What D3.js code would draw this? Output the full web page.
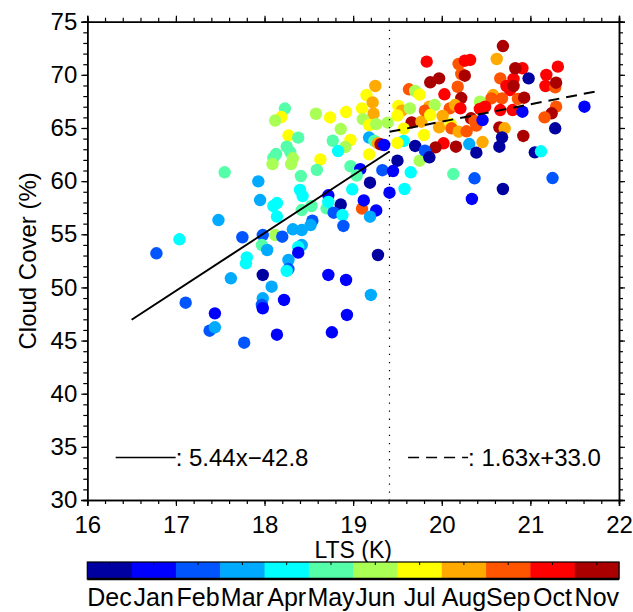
<!DOCTYPE html>
<html><head><meta charset="utf-8">
<script src="https://cdn.jsdelivr.net/npm/d3@7"></script>
<style>
body{margin:0;background:#fff}
svg{display:block}
text{font-family:"Liberation Sans",Arial,Helvetica,sans-serif;fill:#000}
</style>
</head><body>
<svg id="chart" width="633" height="612"></svg>
<script>
// ---------- data ----------
const months = ["Dec","Jan","Feb","Mar","Apr","May","Jun","Jul","Aug","Sep","Oct","Nov"];
const monthColors = ["#0000a0","#0000ff","#0055ff","#00aaff","#00ffff","#55ffaa","#aaff55","#ffff00","#ffaa00","#ff5500","#ff0000","#aa0000"];
const xTicks = [16,17,18,19,20,21,22];
const yTicks = [30,35,40,45,50,55,60,65,70,75];

const lts = [
 17.95,18.10,18.14,18.40,18.43,18.42,18.53,18.70,18.72,18.72,18.86,19.10,19.12,19.26,18.78,18.88,19.19,17.48,18.14,18.54,
 18.52,18.32,18.42,18.89,17.04,17.75,17.98,18.12,18.20,17.97,18.03,18.42,18.38,18.38,16.78,17.80,17.79,18.27,18.27,18.25,
 19.28,17.62,17.98,18.72,18.92,18.08,17.98,17.97,17.98,18.22,19.20,17.11,17.44,17.38,17.44,17.77,18.14,18.76,18.93,
 18.23,18.19,18.12,18.58,18.74,18.92,18.27,18.38,18.86,18.77,18.97,18.91,18.83,18.25,18.29,18.13,18.10,18.09,18.32,18.30,
 18.63,18.59,18.41,18.97,17.55,17.93,18.99,19.08,19.04,
 19.15,19.25,19.22,19.10,19.23,19.11,19.18,19.26,19.39,19.63,19.70,19.75,19.51,19.55,19.64,19.50,19.66,19.57,19.77,19.18,
 19.24,19.28,19.31,19.35,19.57,19.50,19.70,19.18,19.33,19.50,19.45,19.65,19.75,19.19,19.41,19.58,
 20.69,19.83,20.19,20.26,20.32,20.62,20.22,20.26,19.87,19.97,20.03,20.18,20.22,20.66,20.81,20.91,20.83,20.98,20.73,20.77,
 20.81,21.18,21.31,21.17,21.28,21.29,20.58,20.68,20.56,20.86,20.93,20.09,20.15,20.21,20.43,20.43,20.49,20.66,20.80,20.91,
 21.29,21.24,21.16,21.61,19.86,19.81,19.92,19.87,20.01,19.80,19.97,20.10,20.11,20.19,20.28,20.33,20.37,20.39,20.46,20.65,
 20.71,20.68,20.92,21.28,20.02,19.93,20.16,20.31,20.39,20.46,20.65,19.81,19.86,20.13,20.37,20.69,20.34,21.05,21.12,21.25
];
const cloudCover = [
 58.22,57.66,57.94,59.17,58.60,57.28,57.66,57.44,58.67,58.04,57.80,57.41,58.18,57.24,57.03,56.81,56.65,56.34,56.67,56.28,
 55.87,55.47,55.40,55.78,54.53,54.72,54.93,54.93,54.77,53.99,53.52,53.99,53.80,53.27,53.21,52.83,52.27,52.58,51.73,51.55,
 53.05,50.86,51.17,51.17,50.70,50.07,48.98,48.35,48.04,48.82,49.29,48.56,47.56,45.93,46.25,44.80,45.55,45.78,47.41,
 66.83,66.03,65.70,66.34,65.99,66.50,64.29,64.09,64.90,63.80,63.87,63.21,62.83,63.24,62.74,62.55,62.18,61.61,62.15,61.61,
 62.04,61.05,60.48,61.40,60.83,59.98,59.23,61.12,60.53,
 68.10,68.95,67.40,66.85,66.34,65.83,65.28,65.36,65.50,68.64,68.48,68.13,67.07,66.63,66.85,66.17,65.53,64.93,65.59,64.10,
 63.78,63.56,63.47,63.40,63.78,63.59,63.31,62.52,61.03,61.92,60.95,60.83,61.92,59.85,58.91,59.26,
 72.71,71.24,71.02,71.33,71.40,71.49,70.08,69.92,69.30,69.67,68.17,68.88,67.82,69.67,69.61,70.62,70.62,69.67,68.95,68.57,
 68.95,69.99,70.77,68.95,68.83,69.26,68.10,67.79,67.79,67.73,67.85,66.85,67.16,66.85,67.47,66.79,67.00,66.69,66.69,66.53,
 67.00,66.38,66.00,67.00,67.00,66.63,67.16,66.22,66.13,64.34,65.06,65.37,64.97,64.65,64.69,65.91,65.66,65.22,65.75,65.06,
 64.97,64.12,64.25,64.97,63.56,63.18,63.24,63.49,62.68,63.68,63.24,62.86,62.24,60.67,60.27,59.26,58.32,62.71,62.81,60.29
];
const pointMonth = [
 "Mar","Apr","Apr","Apr","Apr","May","May","May","Jan","Apr","Dec","Sep","Jan","Jan","Feb","Apr","Mar","Mar","Apr","Feb",
 "Mar","Mar","Mar","Feb","Apr","Feb","Feb","Jun","Feb","May","Mar","Mar","Apr","Jan","Feb","Apr","Apr","Mar","Feb","Apr",
 "Dec","Mar","Dec","Jan","Jan","Mar","Mar","Feb","Jan","Jan","Mar","Feb","Jan","Feb","Mar","Feb","Jan","Jan","Jan",
 "May","Jul","Jun","Jun","Jul","Jul","Jul","May","Jun","May","Jul","Jun","Apr","May","May","May","May","Jun","Jun","Jun",
 "Jul","May","May","May","May","Mar","Apr","Jan","May",
 "Jul","Aug","Aug","Jul","Aug","Jun","Jul","Jun","Jun","Sep","Jun","Jul","Jul","Aug","Jun","Jul","Nov","Jul","Aug","Mar",
 "May","Aug","Nov","Jan","Apr","Jul","Dec","Jul","Feb","Dec","Jan","Apr","Jun","Dec","Jan","Apr",
 "Nov","Oct","Sep","Oct","Oct","Aug","Sep","Nov","Nov","Nov","Oct","Sep","Nov","Sep","Oct","Oct","Nov","Dec","Oct","Oct",
 "Nov","Oct","Oct","Oct","Sep","Nov","Aug","Sep","Sep","Sep","Nov","Sep","Aug","Oct","Jun","Oct","Oct","Oct","Oct","Jan",
 "Sep","Nov","Sep","Jan","Aug","Sep","Jun","Jul","Aug","Jul","Aug","Jul","Sep","Aug","Sep","Nov","Sep","Sep","Jan","Nov",
 "Aug","Dec","Nov","Dec","Oct","Nov","Nov","Mar","Dec","Aug","Dec","Feb","Dec","May","Feb","Dec","Jan","Dec","Apr","Feb"
];

// regression fits: below / above the break in LTS
const breakLTS = 19.41;
const fitSlopes = [5.44, 1.63];
const fitIntercepts = [-42.8, 33.0];
const fitStarts = [16.5, 19.41];
const fitEnds = [19.41, 21.73];
const fitLabels = [": 5.44x\u221242.8", ": 1.63x+33.0"];

// ---------- layout ----------
const svg = d3.select("#chart");
const L = 87.3, R = 619, T = 21.7, B = 500;
const x = d3.scaleLinear().domain([16,22]).range([L,R]);
const y = d3.scaleLinear().domain([30,75]).range([B,T]);

// points
const pts = lts.map((v,i)=>({x:v,y:cloudCover[i],m:pointMonth[i]}));
const color = d3.scaleOrdinal().domain(months).range(monthColors);
svg.append("g").selectAll("circle").data(pts).join("circle")
  .attr("cx",d=>x(d.x)).attr("cy",d=>y(d.y)).attr("r",6.2)
  .attr("fill",d=>color(d.m));

// break line (dotted)
svg.append("line").attr("x1",x(breakLTS)).attr("x2",x(breakLTS)).attr("y1",y(75)).attr("y2",y(30))
  .attr("stroke","#000").attr("stroke-width",1.2).attr("stroke-dasharray","1.3,6.8");

// fit lines
const dashes = [null,"11,7"];
fitSlopes.forEach((s,i)=>{
  svg.append("line")
    .attr("x1",x(fitStarts[i])).attr("y1",y(s*fitStarts[i]+fitIntercepts[i]))
    .attr("x2",x(fitEnds[i])).attr("y2",y(s*fitEnds[i]+fitIntercepts[i]))
    .attr("stroke","#000").attr("stroke-width",2).attr("stroke-dasharray",dashes[i]);
});

// legend for fits
const legX = [16.32, 19.62];
const legY = 34;
fitLabels.forEach((t,i)=>{
  svg.append("line").attr("x1",x(legX[i])).attr("x2",x(legX[i])+60)
    .attr("y1",y(legY)).attr("y2",y(legY))
    .attr("stroke","#000").attr("stroke-width",1.6).attr("stroke-dasharray",dashes[i]);
  svg.append("text").attr("x",x(legX[i])+60).attr("y",y(legY)+9)
    .attr("font-size",24).text(t);
});

// axes
const minorX = d3.range(16,22.001,0.2);
const minorY = d3.range(30,75.001,1);
svg.append("g").attr("transform",`translate(0,${B})`)
  .call(d3.axisBottom(x).tickValues(minorX).tickSize(4).tickFormat(""));
svg.append("g").attr("transform",`translate(0,${B})`)
  .call(d3.axisBottom(x).tickValues(xTicks).tickSize(6).tickPadding(10).tickFormat(d3.format("d")));
svg.append("g").attr("transform",`translate(0,${T})`)
  .call(d3.axisTop(x).tickValues(minorX).tickSize(4).tickFormat(""));
svg.append("g").attr("transform",`translate(0,${T})`)
  .call(d3.axisTop(x).tickValues(xTicks).tickSize(6).tickFormat(""));
svg.append("g").attr("transform",`translate(${L},0)`)
  .call(d3.axisLeft(y).tickValues(minorY).tickSize(4).tickFormat(""));
svg.append("g").attr("transform",`translate(${L},0)`)
  .call(d3.axisLeft(y).tickValues(yTicks).tickSize(6).tickPadding(4).tickFormat(d3.format("d")));
svg.append("g").attr("transform",`translate(${R},0)`)
  .call(d3.axisRight(y).tickValues(minorY).tickSize(4).tickFormat(""));
svg.append("g").attr("transform",`translate(${R},0)`)
  .call(d3.axisRight(y).tickValues(yTicks).tickSize(6).tickFormat(""));
svg.selectAll(".domain").attr("stroke","#000").attr("stroke-width",1.5);
svg.selectAll(".tick line").attr("stroke","#000").attr("stroke-width",1.2);
svg.selectAll(".tick text").attr("font-size",24).attr("font-family","Liberation Sans, Arial, sans-serif").attr("fill","#000");

// axis titles
svg.append("text").attr("x",(L+R)/2).attr("y",558).attr("text-anchor","middle").attr("font-size",23).text("LTS (K)");
svg.append("text").attr("transform",`translate(36,${(T+B)/2}) rotate(-90)`).attr("text-anchor","middle")
  .attr("font-size",24).text("Cloud Cover (%)");

// colorbar
const cb = d3.scaleBand().domain(months).range([L,R]);
const cbTop = 562, cbH = 17;
svg.append("g").selectAll("rect").data(months).join("rect")
  .attr("x",d=>cb(d)).attr("y",cbTop).attr("width",cb.bandwidth()+0.5).attr("height",cbH)
  .attr("fill",d=>color(d));
svg.append("rect").attr("x",L).attr("y",cbTop).attr("width",R-L).attr("height",cbH)
  .attr("fill","none").attr("stroke","#000").attr("stroke-width",1.2);
svg.append("line").attr("x1",L).attr("x2",R).attr("y1",cbTop+cbH).attr("y2",cbTop+cbH)
  .attr("stroke","#000").attr("stroke-width",2.4);
svg.append("g").selectAll("line").data(months).join("line")
  .attr("x1",d=>cb(d)+cb.bandwidth()/2).attr("x2",d=>cb(d)+cb.bandwidth()/2)
  .attr("y1",cbTop).attr("y2",cbTop+3).attr("stroke","#000").attr("stroke-width",1);
svg.append("g").selectAll("text").data(months).join("text")
  .attr("x",d=>cb(d)+cb.bandwidth()/2).attr("y",606).attr("text-anchor","middle")
  .attr("font-size",25).text(d=>d);
</script>
</body></html>
